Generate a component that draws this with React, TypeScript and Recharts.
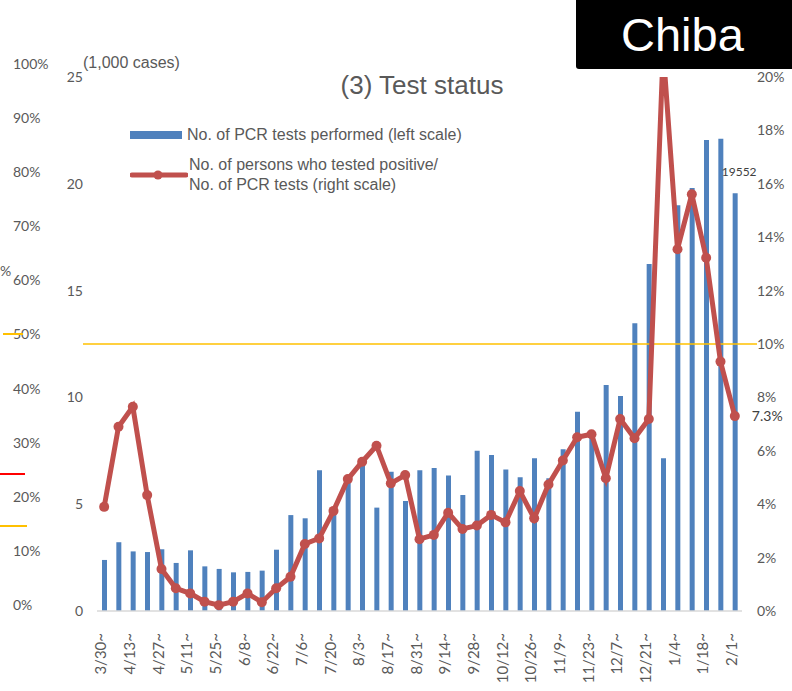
import { ComposedChart, Bar, Line, XAxis, YAxis, ReferenceLine, LabelList } from "recharts";

const weeks = [
  "3/30~", "4/6~", "4/13~", "4/20~", "4/27~", "5/4~", "5/11~", "5/18~", "5/25~", "6/1~",
  "6/8~", "6/15~", "6/22~", "6/29~", "7/6~", "7/13~", "7/20~", "7/27~", "8/3~", "8/10~",
  "8/17~", "8/24~", "8/31~", "9/7~", "9/14~", "9/21~", "9/28~", "10/5~", "10/12~", "10/19~",
  "10/26~", "11/2~", "11/9~", "11/16~", "11/23~", "11/30~", "12/7~", "12/14~", "12/21~", "12/28~",
  "1/4~", "1/11~", "1/18~", "1/25~", "2/1~",
];

// weekly PCR tests (cases)
const pcrTests = [
  2390, 3220, 2790, 2760, 2890, 2250, 2840, 2090, 1970, 1810,
  1830, 1890, 2870, 4490, 4340, 6590, 4500, 6100, 6800, 4840,
  6520, 5150, 6590, 6690, 6340, 5430, 7500, 7300, 6630, 6260,
  7150, 6210, 7570, 9330, 8300, 10580, 10070, 13470, 16240, 7150,
  19000, 19800, 22050, 22110, 19552,
];

// positive / tests (%)
const positiveRate = [
  3.9, 6.9, 7.65, 4.34, 1.57, 0.85, 0.66, 0.35, 0.22, 0.35,
  0.66, 0.33, 0.85, 1.28, 2.51, 2.72, 3.75, 4.94, 5.59, 6.19,
  4.78, 5.09, 2.69, 2.85, 3.68, 3.07, 3.2, 3.6, 3.32, 4.49,
  3.47, 4.74, 5.64, 6.51, 6.62, 4.97, 7.19, 6.47, 7.19, 21.0,
  13.55, 15.61, 13.23, 9.34, 7.3,
];

const leftTicks = [0, 5000, 10000, 15000, 20000, 25000];
const rightTicks = [0, 2, 4, 6, 8, 10, 12, 14, 16, 18, 20];
// axis of the neighbouring chart, cut off at the left edge
const outerTicks = [0, 10, 20, 30, 40, 50, 60, 70, 80, 90, 100];
const thresholdRate = 10;

const BLUE = "#4F81BD";
const RED = "#C0504D";
const GREY = "#595959";
const tickFont = "Lato, 'Liberation Sans', sans-serif";
const textFont = "'Liberation Sans', Arial, sans-serif";

const chartData = weeks.map((week, i) => ({ week, tests: pcrTests[i], rate: positiveRate[i] }));
const outerData = outerTicks.map((pct) => ({ pct }));
const lastIdx = weeks.length - 1;

const WeekTick = ({ x, y, payload }: any) => (
  <text
    x={x}
    y={y + 14}
    transform={`rotate(-90 ${x} ${y + 14})`}
    textAnchor="end"
    dy="0.15em"
    fontSize={15}
    fontFamily={tickFont}
    fill={GREY}
  >
    {payload.value}
  </text>
);

const LastBarLabel = ({ x, y, width, value, index }: any) =>
  index === lastIdx ? (
    <text x={x + width / 2 + 4} y={y - 17} textAnchor="middle" fontSize={12} fontFamily={tickFont} fill="#404040">
      {value}
    </text>
  ) : null;

const LastRateLabel = ({ x, y, value, index }: any) =>
  index === lastIdx ? (
    <text x={x + 17} y={y + 5} fontSize={14} fontFamily={tickFont} fill="#404040">
      {value.toFixed(1)}%
    </text>
  ) : null;

const Fragment = ({ top, left, width, color }: any) => (
  <div style={{ position: "absolute", top, left, width, height: 2, background: color }} />
);

export default function App() {
  return (
    <div style={{ position: "absolute", left: 0, top: 0, width: 792, height: 691, background: "#fff", overflow: "hidden" }}>
      <div style={{ position: "absolute", left: 0, top: 0 }}>
        <ComposedChart width={60} height={691} data={outerData} margin={{ top: 64, right: 0, bottom: 86, left: 0 }}>
          <YAxis
            yAxisId="outer"
            orientation="right"
            width={48}
            domain={[0, 100]}
            ticks={outerTicks}
            tickFormatter={(v) => `${v}%`}
            axisLine={false}
            tickLine={false}
            tickSize={0}
            tickMargin={1}
            tick={{ fontSize: 14, fontFamily: tickFont, fill: GREY }}
          />
          <Line yAxisId="outer" dataKey="pct" stroke="none" dot={false} activeDot={false} isAnimationActive={false} />
        </ComposedChart>
      </div>
      <div style={{ position: "absolute", left: 0, top: 262, fontSize: 14, fontFamily: tickFont, color: GREY }}>%</div>
      <Fragment top={333} left={3} width={20} color="#FFC000" />
      <Fragment top={473} left={0} width={25} color="#FF0000" />
      <Fragment top={525} left={0} width={27} color="#FFC000" />

      <div style={{ position: "absolute", left: 0, top: 0 }}>
        <ComposedChart width={792} height={691} data={chartData} margin={{ top: 77, right: 0, bottom: 0, left: 0 }}>
          <XAxis
            dataKey="week"
            interval={1}
            height={80}
            tickLine={false}
            axisLine={{ stroke: "#D9D9D9", strokeWidth: 1.5 }}
            tick={<WeekTick />}
          />
          <YAxis
            yAxisId="left"
            width={97}
            domain={[0, 25000]}
            ticks={leftTicks}
            tickFormatter={(v) => `${v / 1000}`}
            axisLine={false}
            tickLine={false}
            tickSize={0}
            tickMargin={14}
            tick={{ fontSize: 14, fontFamily: tickFont, fill: GREY }}
          />
          <YAxis
            yAxisId="right"
            orientation="right"
            width={50}
            domain={[0, 20]}
            allowDataOverflow
            ticks={rightTicks}
            tickFormatter={(v) => `${v}%`}
            axisLine={false}
            tickLine={false}
            tickSize={0}
            tickMargin={15}
            tick={{ fontSize: 14, fontFamily: tickFont, fill: GREY }}
          />
          <Bar yAxisId="left" dataKey="tests" fill={BLUE} barSize={5} isAnimationActive={false}>
            <LabelList dataKey="tests" content={<LastBarLabel />} />
          </Bar>
          <ReferenceLine
            yAxisId="right"
            y={thresholdRate}
            {...({ zIndex: 350 } as any)}
            shape={(p: any) => (
              <line
                x1={Math.min(p.x1, p.x2) - 14}
                y1={p.y1}
                x2={Math.max(p.x1, p.x2) + 15}
                y2={p.y2}
                stroke="#FFC000"
                strokeWidth={1.5}
              />
            )}
          />
          <Line
            yAxisId="right"
            dataKey="rate"
            stroke={RED}
            strokeWidth={5}
            dot={{ r: 5, fill: RED, stroke: RED, strokeWidth: 0 }}
            activeDot={false}
            isAnimationActive={false}
          >
            <LabelList dataKey="rate" content={<LastRateLabel />} />
          </Line>
        </ComposedChart>
      </div>

      {/* legend */}
      <div style={{ position: "absolute", left: 130, top: 125, fontFamily: textFont, fontSize: 16, color: GREY, lineHeight: "20px" }}>
        <div style={{ display: "flex", alignItems: "center", height: 20 }}>
          <div style={{ width: 52, height: 8, background: BLUE, marginRight: 5 }} />
          No. of PCR tests performed (left scale)
        </div>
        <div style={{ display: "flex", alignItems: "center", marginTop: 10 }}>
          <svg width={58} height={12} style={{ marginRight: 1 }}>
            <line x1={2} y1={6} x2={56} y2={6} stroke={RED} strokeWidth={5} strokeLinecap="round" />
            <circle cx={28} cy={6} r={4.5} fill={RED} />
          </svg>
          <div>
            No. of persons who tested positive/
            <br />
            No. of PCR tests (right scale)
          </div>
        </div>
      </div>

      <div style={{ position: "absolute", left: 83, top: 54, fontSize: 16, fontFamily: textFont, color: GREY }}>
        (1,000 cases)
      </div>
      <div style={{ position: "absolute", left: 0, width: 844, top: 70, textAlign: "center", fontSize: 26, fontFamily: textFont, color: GREY }}>
        (3) Test status
      </div>
      <div
        style={{
          position: "absolute",
          left: 576,
          top: -4,
          width: 230,
          height: 73,
          background: "#000",
          borderRadius: 3,
          color: "#fff",
          fontFamily: textFont,
          fontSize: 47,
          display: "flex",
          alignItems: "center",
          paddingLeft: 45,
          paddingTop: 3,
          boxSizing: "border-box",
        }}
      >
        Chiba
      </div>
    </div>
  );
}
